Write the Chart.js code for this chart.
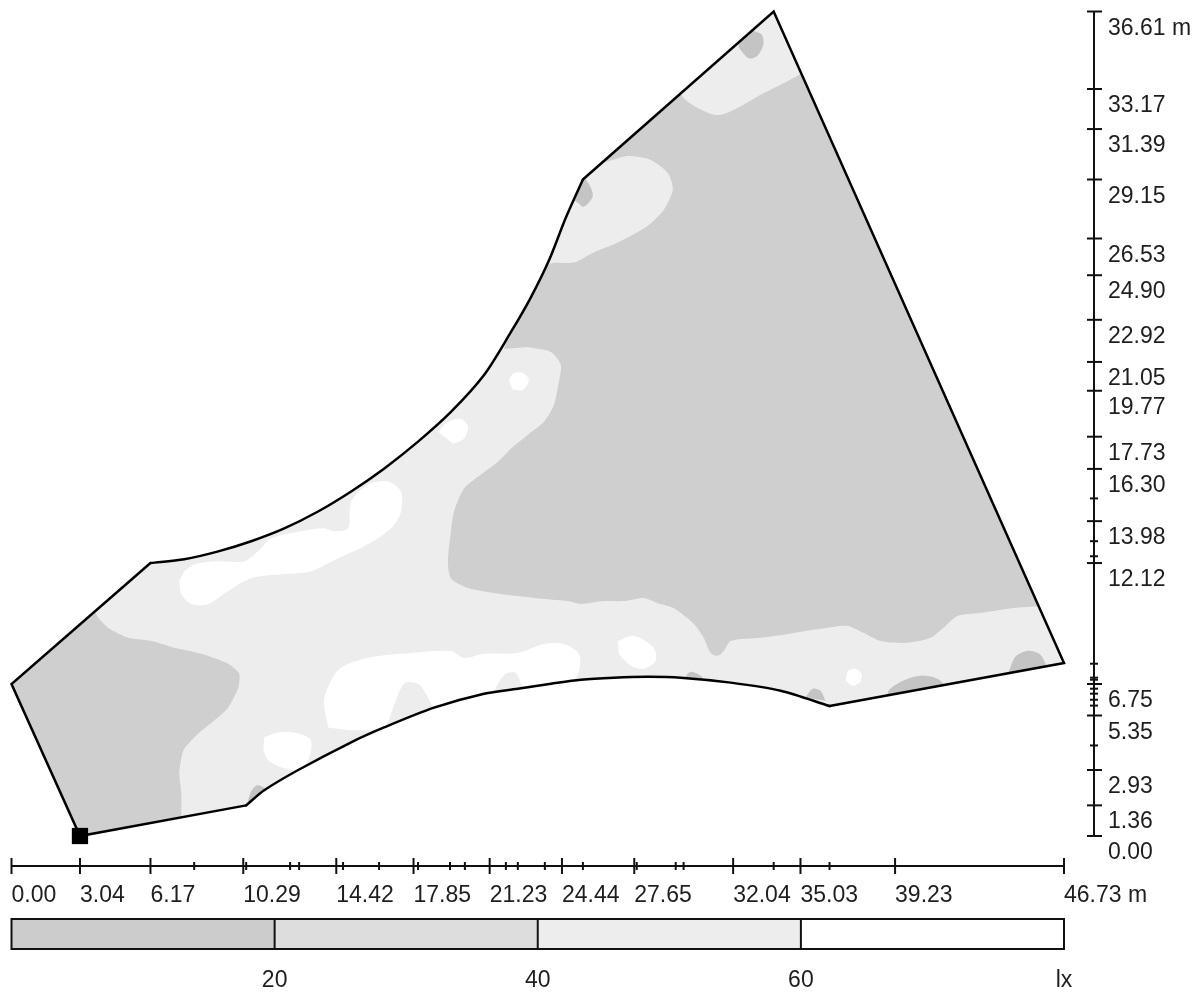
<!DOCTYPE html>
<html>
<head>
<meta charset="utf-8">
<script src="https://cdn.jsdelivr.net/npm/chart.js@4.4.1/dist/chart.umd.min.js"></script>
<style>
  html, body { margin: 0; padding: 0; background: #fff; }
  #wrap { width: 1203px; height: 993px; position: relative; }
</style>
</head>
<body>
<div id="wrap"><canvas id="isolines"></canvas></div>
<script>
// ruler ticks (metres)
const xTicks = [0.00, 3.04, 6.17, 10.29, 14.42, 17.85, 21.23, 24.44, 27.65, 32.04, 35.03, 39.23, 46.73]
const xMinorTicks = [8.11, 10.42, 12.37, 12.77, 14.72, 16.32, 18.05, 19.47, 20.13, 21.95, 22.48, 23.68, 25.37, 27.76, 29.49, 29.84, 33.84, 36.32]
const yTicks = [0.00, 1.36, 2.93, 5.35, 6.75, 12.12, 13.98, 16.30, 17.73, 19.77, 21.05, 22.92, 24.90, 26.53, 29.15, 31.39, 33.17, 36.61]
const yMinorTicks = [4.02, 5.79, 6.05, 6.32, 6.54, 6.94, 7.03, 7.65, 12.42, 13.09, 14.99]
const unit = 'm'

// illuminance classes shown in the scale bar
const lxLevels = [20, 40, 60]
const lxUnit = 'lx'
const lxColors = ['#cccccc', '#dddddd', '#ededed', '#ffffff']

// room outline, [x, y] in metres
const room = [[3.04,0.00],[0.00,6.75],[6.17,12.12],[7.67,12.29],[9.18,12.64],[10.64,13.09],[12.11,13.66],[13.61,14.41],
  [15.08,15.30],[16.54,16.31],[18.05,17.51],[19.51,18.83],[20.98,20.47],[22.17,22.37],[23.06,23.92],[23.86,25.55],
  [24.61,27.45],[25.37,29.15],[33.84,36.61],[46.73,7.68],[36.32,5.77],[34.15,6.45],[31.93,6.81],[29.71,7.03],
  [28.25,7.07],[26.74,7.03],[25.28,6.94],[23.95,6.76],[22.48,6.54],[20.98,6.32],[18.76,5.70],[16.54,4.82],
  [15.08,4.16],[12.73,2.93],[11.22,2.03],[10.42,1.36]]
const luminaire = [3.04, 0.00]

// below 20 lx (large zones)
const dark1 = [[21.86,21.62],[22.17,22.37],[23.06,23.92],[23.86,25.38],[24.97,25.46],[25.85,25.91],[26.92,26.35],[28.25,27.10],
  [28.96,27.81],[29.36,28.69],[29.14,29.44],[28.38,30.02],[27.36,30.19],[26.16,29.97],[27.00,33.00],[29.00,34.50],
  [29.85,32.76],[31.40,32.01],[33.39,32.98],[34.94,33.78],[36.00,34.50],[47.50,10.50],[45.68,10.21],[44.48,10.12],
  [43.02,9.90],[42.00,9.77],[41.37,9.24],[40.80,8.80],[39.78,8.58],[38.58,8.66],[37.83,9.02],[37.12,9.33],[35.92,9.20],
  [34.46,8.97],[33.26,8.80],[31.93,8.66],[31.62,8.22],[31.35,8.00],[31.04,8.13],[30.73,8.80],[30.29,9.42],[29.40,10.12],
  [28.69,10.34],[28.07,10.57],[27.18,10.43],[26.30,10.43],[25.28,10.30],[24.70,10.43],[23.19,10.57],[21.73,10.74],
  [20.27,11.01],[19.51,11.45],[19.38,12.20],[19.51,13.53],[19.65,14.41],[20.09,15.43],[20.84,16.05],[21.60,16.62],
  [22.17,17.20],[22.93,17.82],[23.64,18.39],[24.08,19.14],[24.30,20.16],[24.39,20.91],[23.95,21.49],[22.93,21.71]]
const dark2 = [[3.55,10.21],[0.00,6.75],[2.66,-0.62],[7.54,0.04],[7.54,1.02],[7.54,1.90],[7.45,2.79],[7.63,3.80],
  [8.29,4.55],[9.00,5.13],[9.62,5.70],[10.07,6.59],[10.11,7.21],[9.62,7.65],[8.43,8.09],[7.23,8.36],[6.21,8.66],
  [5.19,8.80],[4.30,9.24],[3.86,9.68]]

// small darker patches along the walls
const spots = [
  [[10.45,1.30],[10.60,1.90],[10.90,2.25],[11.25,2.10],[11.10,1.70]],
  [[32.37,35.86],[33.26,35.63],[33.39,35.19],[33.13,34.66],[32.73,34.53],[32.28,35.01]],
  [[24.90,28.30],[25.14,29.41],[25.54,29.09],[25.81,28.43],[25.41,27.94],[25.14,28.12]],
  [[44.26,7.25],[44.57,7.96],[45.10,8.22],[45.68,8.05],[45.99,7.43],[46.12,6.90]],
  [[38.90,6.00],[38.94,6.45],[39.60,6.90],[40.35,7.12],[41.11,6.98],[41.60,6.54]],
  [[35.25,6.15],[35.57,6.54],[35.92,6.45],[36.14,6.01]],
  [[29.84,6.98],[30.16,7.29],[30.60,7.12],[30.73,6.94]]
]

// above 60 lx
const bright = [
  [[7.67,11.76],[8.12,12.07],[9.18,12.20],[10.33,12.20],[11.09,12.78],[11.53,13.22],[12.86,13.53],[13.88,13.66],
   [14.32,13.53],[14.94,13.66],[15.08,14.85],[15.83,15.61],[16.72,15.74],[17.29,15.30],[17.29,14.41],[16.85,13.66],
   [15.83,12.95],[14.50,12.33],[13.30,11.76],[12.11,11.63],[10.64,11.45],[9.62,10.88],[8.74,10.30],[7.98,10.30],
   [7.54,10.74],[7.45,11.32]],
  [[18.94,17.95],[19.38,18.39],[19.96,18.52],[20.27,18.17],[20.09,17.64],[19.60,17.42]],
  [[22.08,20.25],[22.31,20.56],[22.71,20.56],[22.97,20.25],[22.71,19.81],[22.26,19.81]],
  [[14.06,4.82],[13.88,6.01],[14.19,6.90],[14.63,7.47],[15.83,7.91],[17.29,8.09],[19.51,8.22],[20.09,7.91],[20.98,8.09],
   [22.48,8.13],[23.64,8.53],[24.52,8.53],[25.19,8.09],[25.19,7.34],[24.61,6.50],[23.06,6.45],[22.71,6.63],[22.39,7.25],
   [21.95,7.21],[21.60,6.76],[21.29,6.23],[20.40,6.01],[19.07,5.66],[18.76,5.70],[18.40,6.32],[18.05,6.76],[17.43,6.76],
   [16.98,5.79],[16.54,4.82],[15.08,4.69]],
  [[11.22,4.38],[11.84,4.60],[12.73,4.55],[13.30,4.24],[13.17,3.36],[12.73,2.92],[11.97,3.05],[11.40,3.36],[11.18,3.80]],
  [[26.92,8.66],[27.63,8.89],[28.51,8.36],[28.60,7.78],[28.07,7.43],[27.49,7.56],[26.96,8.09]],
  [[37.12,7.34],[37.47,7.43],[37.74,7.21],[37.69,6.85],[37.34,6.67],[37.03,6.90]]
]


const toPoints = list => list.map(p => ({x: p[0], y: p[1]}))

function zone(list, color, tension) {
  return {
    data: toPoints(list),
    backgroundColor: color,
    borderWidth: 0,
    pointRadius: 0,
    fill: 'shape',
    tension: tension
  }
}

function wall(list, tension) {
  return {
    data: toPoints(list),
    borderColor: '#000',
    borderWidth: 2.5,
    borderJoinStyle: 'miter',
    borderCapStyle: 'round',
    pointRadius: 0,
    fill: false,
    tension: tension,
    clip: false
  }
}

// white sheet with the room cut out, hides zone edges that run past the walls
const sheet = [[-3,-3],[50,-3],[50,40],[-3,40],[-3,-3]].concat(room, [room[0], [-3,-3]])

// walls: straight runs plus the two curved ones
const topCurve = room.slice(2, 18)
const bottomCurve = room.slice(20)
const eastWalls = room.slice(17, 21)
const westWalls = [room[35], room[0], room[1], room[2]]

let datasets = [
  {data: toPoints([luminaire]), showLine: false, pointStyle: 'rect', pointRadius: 11.5,
   pointBackgroundColor: '#000', pointBorderWidth: 0, clip: false},
  wall(westWalls, 0),
  wall(eastWalls, 0),
  wall(topCurve, 0.3),
  wall(bottomCurve, 0.3),
  zone(sheet, '#ffffff', 0)
]
bright.forEach(b => datasets.push(zone(b, '#ffffff', 0.3)))
spots.forEach(s => datasets.push(zone(s, '#c4c4c4', 0.3)))
datasets.push(zone(dark1, '#cfcfcf', 0.25))
datasets.push(zone(dark2, '#cfcfcf', 0.2))
datasets.push(zone(room, '#ededed', 0))


function stroke(ctx, ax, ay, bx, by) {
  ctx.beginPath()
  ctx.moveTo(ax, ay)
  ctx.lineTo(bx, by)
  ctx.stroke()
}

// rulers and lx scale bar, placed from the chart's own scales
const rulers = {
  id: 'rulers',
  afterDraw(chart) {
    const ctx = chart.ctx
    const xs = chart.scales.x
    const ys = chart.scales.y
    const left = xs.getPixelForValue(xs.min)
    const right = xs.getPixelForValue(xs.max)
    const bottom = ys.getPixelForValue(ys.min)
    const top = ys.getPixelForValue(ys.max)
    const hy = bottom + 30
    const vx = right + 30

    ctx.save()
    ctx.strokeStyle = '#111'
    ctx.fillStyle = '#1e1e1e'
    ctx.lineWidth = 2
    ctx.font = '23px "Liberation Sans", Arial, sans-serif'
    ctx.textBaseline = 'alphabetic'

    // horizontal ruler
    stroke(ctx, left, hy, right, hy)
    xMinorTicks.forEach(v => {
      const p = xs.getPixelForValue(v)
      stroke(ctx, p, hy - 4, p, hy + 4)
    })
    ctx.textAlign = 'left'
    xTicks.forEach((v, i) => {
      const p = xs.getPixelForValue(v)
      stroke(ctx, p, hy - 8, p, hy + 8)
      const last = i === xTicks.length - 1
      ctx.fillText(v.toFixed(2) + (last ? ' ' + unit : ''), p, hy + 36)
    })

    // vertical ruler
    stroke(ctx, vx, top, vx, bottom)
    yMinorTicks.forEach(v => {
      const p = ys.getPixelForValue(v)
      stroke(ctx, vx - 4, p, vx + 4, p)
    })
    yTicks.forEach((v, i) => {
      const p = ys.getPixelForValue(v)
      stroke(ctx, vx - 7, p, vx + 8, p)
      const last = i === yTicks.length - 1
      ctx.fillText(v.toFixed(2) + (last ? ' ' + unit : ''), vx + 14, p + 23)
    })

    // scale bar
    const barTop = hy + 53
    const barH = 30
    const w = (right - left) / lxColors.length
    lxColors.forEach((c, i) => {
      ctx.fillStyle = c
      ctx.fillRect(left + i * w, barTop, w, barH)
    })
    ctx.strokeRect(left, barTop, right - left, barH)
    ctx.fillStyle = '#1e1e1e'
    ctx.textAlign = 'center'
    lxLevels.forEach((lv, i) => {
      const p = left + (i + 1) * w
      stroke(ctx, p, barTop, p, barTop + barH)
      ctx.fillText(String(lv), p, barTop + barH + 38)
    })
    ctx.fillText(lxUnit, right, barTop + barH + 38)
    ctx.restore()
  }
}

let ctx = document.querySelector('#isolines').getContext('2d')

let isolineChart = new Chart(ctx, {
  type: 'line',
  data: {datasets: datasets},
  options: {
    responsive: true,
    maintainAspectRatio: false,
    animation: false,
    events: [],
    layout: {padding: {left: 10, right: 139, top: 8, bottom: 157}},
    scales: {
      x: {type: 'linear', min: 0, max: 46.73, display: false},
      y: {type: 'linear', min: 0, max: 36.61, display: false}
    },
    plugins: {legend: {display: false}, tooltip: {enabled: false}}
  },
  plugins: [rulers]
})
</script>
</body>
</html>
